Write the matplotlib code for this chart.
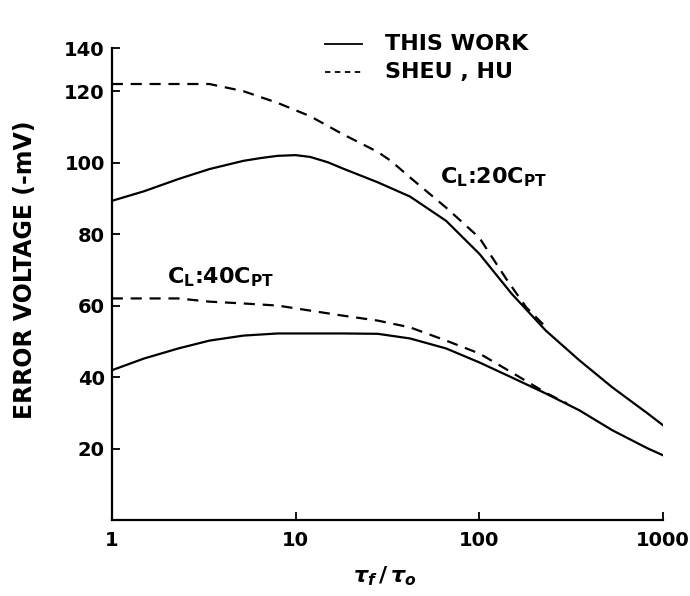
import numpy as np
import matplotlib
matplotlib.use("Agg")
import matplotlib.pyplot as plt

# error voltage vs tau_f/tau_o, two load cases, this work vs Sheu-Hu
x_20_work = [1, 1.5, 2.3, 3.4, 5.2, 6.5, 8, 10, 12, 15, 18, 28, 42, 66, 100, 150, 230, 350, 530, 820, 1000]
y_20_work = [89.3, 92, 95.4, 98.2, 100.5, 101.3, 101.9, 102.1, 101.6, 100.1, 98.4, 94.5, 90.5, 83.7, 74.5, 63.3, 53, 44.7, 37.1, 29.9, 26.5]

x_20_sheu = [1, 2.3, 3.4, 5.2, 8, 12, 18, 28, 33, 43, 66, 100, 140, 180, 230]
y_20_sheu = [122, 122, 122, 120, 116.7, 113, 108, 103, 100.5, 95.4, 87.4, 79, 67.5, 59.5, 54]

x_40_work = [1, 1.5, 2.3, 3.4, 5.2, 8, 12, 18, 28, 42, 66, 100, 150, 230, 350, 530, 820, 1000]
y_40_work = [41.9, 45.2, 48, 50.2, 51.6, 52.2, 52.2, 52.2, 52.1, 50.8, 48, 44.1, 39.9, 35.4, 30.7, 25.1, 20.1, 18.1]

x_40_sheu = [1, 2.3, 3.4, 5.2, 8, 12, 18, 28, 42, 66, 100, 150, 230, 300]
y_40_sheu = [62, 62, 61.1, 60.6, 60, 58.6, 57.2, 55.8, 53.9, 50.2, 46.6, 41.3, 35.6, 32.6]

yticks = [20, 40, 60, 80, 100, 120]
xticks = [1, 10, 100, 1000]
xticklabels = ["1", "10", "100", "1000"]

plt.rcParams["font.family"] = "DejaVu Sans"
plt.rcParams["font.weight"] = "bold"

fig = plt.figure(figsize=(6.9, 5.96), dpi=100)
ax = fig.add_axes([0.162, 0.1275, 0.799, 0.7915])

lw = 1.6
ax.plot(x_20_work, y_20_work, color="black", lw=lw)
ax.plot(x_40_work, y_40_work, color="black", lw=lw)
ax.plot(x_20_sheu, y_20_sheu, color="black", lw=lw, dashes=(5, 3.5))
ax.plot(x_40_sheu, y_40_sheu, color="black", lw=lw, dashes=(5, 3.5))

ax.set_xscale("log")
ax.set_xlim(1, 1000)
ax.set_ylim(0, 132)

# top label sits at the end of the axis
ax.set_yticks(yticks + [132], labels=[str(v) for v in yticks] + ["140"])
ax.set_xticks(xticks, labels=xticklabels)
ax.xaxis.set_minor_locator(matplotlib.ticker.NullLocator())

for s in ["top", "right"]:
    ax.spines[s].set_visible(False)
for s in ["left", "bottom"]:
    ax.spines[s].set_linewidth(1.6)

ax.tick_params(direction="in", length=6, width=1.3, labelsize=14, colors="black")
ax.tick_params(axis="y", pad=5)
ax.tick_params(axis="x", pad=8)
for lab in ax.get_xticklabels() + ax.get_yticklabels():
    lab.set_fontweight("bold")

ax.set_ylabel("ERROR VOLTAGE (-mV)", fontsize=17, fontweight="bold")
ax.yaxis.set_label_coords(-0.135, 0.53)
ax.set_xlabel(r"$\tau_f\,/\,\tau_o$", fontsize=16)
ax.xaxis.set_label_coords(0.495, -0.095)

# legend drawn by hand, like on the original figure
ax.plot([0.387, 0.454], [1.01, 1.01], transform=ax.transAxes, color="black",
        lw=1.3, clip_on=False)
ax.plot([0.387, 0.454], [0.949, 0.949], transform=ax.transAxes, color="black",
        lw=1.3, dashes=(3, 2.5), clip_on=False)
ax.text(0.495, 1.01, "THIS WORK", transform=ax.transAxes, fontsize=16,
        fontweight="bold", va="center", ha="left")
ax.text(0.495, 0.949, "SHEU , HU", transform=ax.transAxes, fontsize=16,
        fontweight="bold", va="center", ha="left")

ax.text(61, 96, r"C$_\mathbf{L}$:20C$_\mathbf{PT}$", fontsize=16,
        fontweight="bold", va="center", ha="left")
ax.text(2.0, 68, r"C$_\mathbf{L}$:40C$_\mathbf{PT}$", fontsize=16,
        fontweight="bold", va="center", ha="left")

fig.savefig("out.png", dpi=100)
